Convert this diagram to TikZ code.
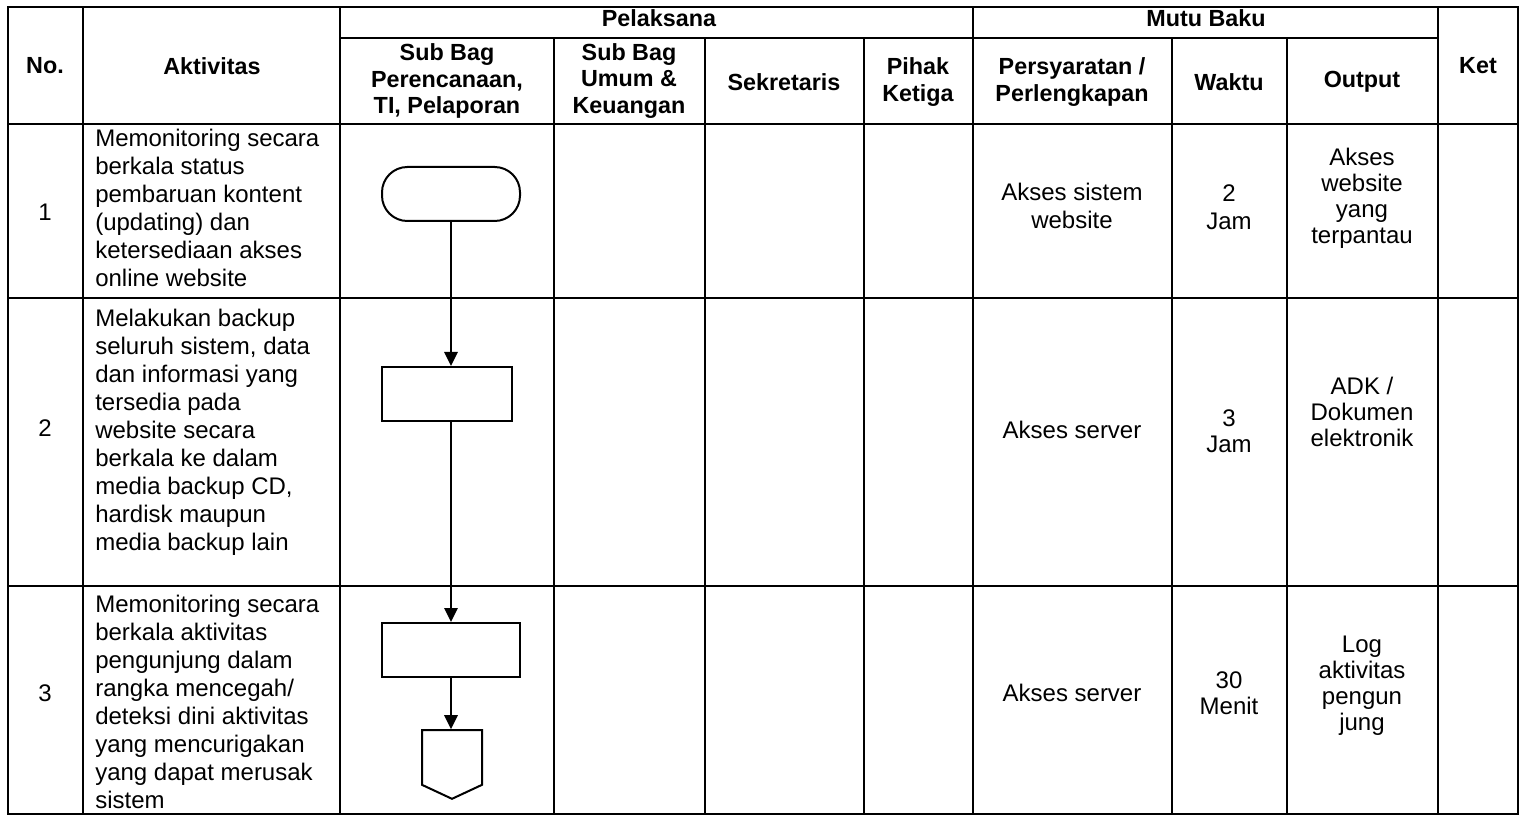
\documentclass[tikz,border=0pt]{standalone}
\usepackage{fontspec}
\setmainfont{Liberation Sans}
\usetikzlibrary{arrows.meta, positioning, shapes.symbols}
\tikzset{
x=0.75pt, y=-0.75pt, % one unit is one pixel of the sheet, y runs down
grid/.style={line width=1.5pt, line cap=rect}, % the lines of the table
head/.style={font=\bfseries\fontsize{17.5}{20}\selectfont, align=center}, % header cells
txt/.style={font=\fontsize{18}{21}\selectfont, align=center}, % plain cells
tight/.style={font=\fontsize{18}{19.5}\selectfont, align=center}, % cells with closer lines
act/.style={font=\fontsize{18}{21}\selectfont, align=left, anchor=north west, inner sep=0pt}, % activity text
terminal/.style={draw, line width=1.5pt, rounded corners=19pt, minimum width=103.5pt, minimum height=40.5pt},
process/.style={draw, line width=1.5pt, minimum height=40.5pt},
offpage/.style={draw, line width=1.5pt, signal, signal to=south, signal from=nowhere, signal pointer angle=130, minimum width=45pt, minimum height=41pt, inner sep=0pt},
flow/.style={-{Triangle[length=10.5pt, width=10pt]}, line width=1.5pt}, % arrows of the flow
}

\begin{document}
\begin{tikzpicture}
\useasboundingbox (0,0) rectangle (1522,816);

% table
\draw[grid] (7.5,7.5) rectangle (1518,814);
\draw[grid] (340,38) -- (1438,38);
\foreach \y in {124,298,586}
  \draw[grid] (7.5,\y) -- (1518,\y);
\foreach \x in {83,340,973,1438}
  \draw[grid] (\x,7.5) -- (\x,814);
\foreach \x in {554,705,864,1172,1287}
  \draw[grid] (\x,38) -- (\x,814);

% header
\node[head] (no) at (45,66) {No.};
\node[head] (aktv) at (212,66) {Aktivitas};
\node[head] (pel) at (659,18) {Pelaksana};
\node[head] (mutu) at (1206,18) {Mutu Baku};
\node[head] (ket) at (1478,66) {Ket};
\node[head] (sb1) at (447,81) {Sub Bag\\Perencanaan,\\TI, Pelaporan};
\node[head] (sb2) at (629,81) {Sub Bag\\Umum \&\\Keuangan};
\node[head] (sek) at (784,82) {Sekretaris};
\node[head] (pihak) at (918,82) {Pihak\\Ketiga};
\node[head] (syarat) at (1072,82) {Persyaratan /\\Perlengkapan};
\node[head] (waktu) at (1229,82) {Waktu};
\node[head] (output) at (1362,82) {Output};

% row 1
\node[txt] (n1) at (45,212) {1};
\node[act] (a1) at (95,129) {Memonitoring secara\\berkala status\\pembaruan kontent\\(updating) dan\\ketersediaan akses\\online website};
\node[txt] (s1) at (1072,206) {Akses sistem\\website};
\node[txt] (w1) at (1229,207) {2\\Jam};
\node[tight] (o1) at (1362,198) {Akses\\website\\yang\\terpantau};

% row 2
\node[txt] (n2) at (45,428) {2};
\node[act] (a2) at (95,309) {Melakukan backup\\seluruh sistem, data\\dan informasi yang\\tersedia pada\\website secara\\berkala ke dalam\\media backup CD,\\hardisk maupun\\media backup lain};
\node[txt] (s2) at (1072,430) {Akses server};
\node[tight] (w2) at (1229,431) {3\\Jam};
\node[tight] (o2) at (1362,412) {ADK /\\Dokumen\\elektronik};

% row 3
\node[txt] (n3) at (45,693) {3};
\node[act] (a3) at (95,595) {Memonitoring secara\\berkala aktivitas\\pengunjung dalam\\rangka mencegah/\\deteksi dini aktivitas\\yang mencurigakan\\yang dapat merusak\\sistem};
\node[txt] (s3) at (1072,693) {Akses server};
\node[tight] (w3) at (1229,693) {30\\Menit};
\node[tight] (o3) at (1362,686) {Log\\aktivitas\\pengun\\jung};

% flow
\node[terminal] (start) at (451,194) {};
\node[process, minimum width=97pt] (proc1) at (447,394) {};
\node[process, minimum width=103pt] (proc2) at (451,650) {};
\node[offpage] (off) at (452,757.5) {};

\draw[flow] (start) -- (start |- proc1.north);
\draw[flow] (proc1.south -| proc2) -- (proc2.north);
\draw[flow] (proc2) -- (proc2 |- off.north);
\end{tikzpicture}
\end{document}
